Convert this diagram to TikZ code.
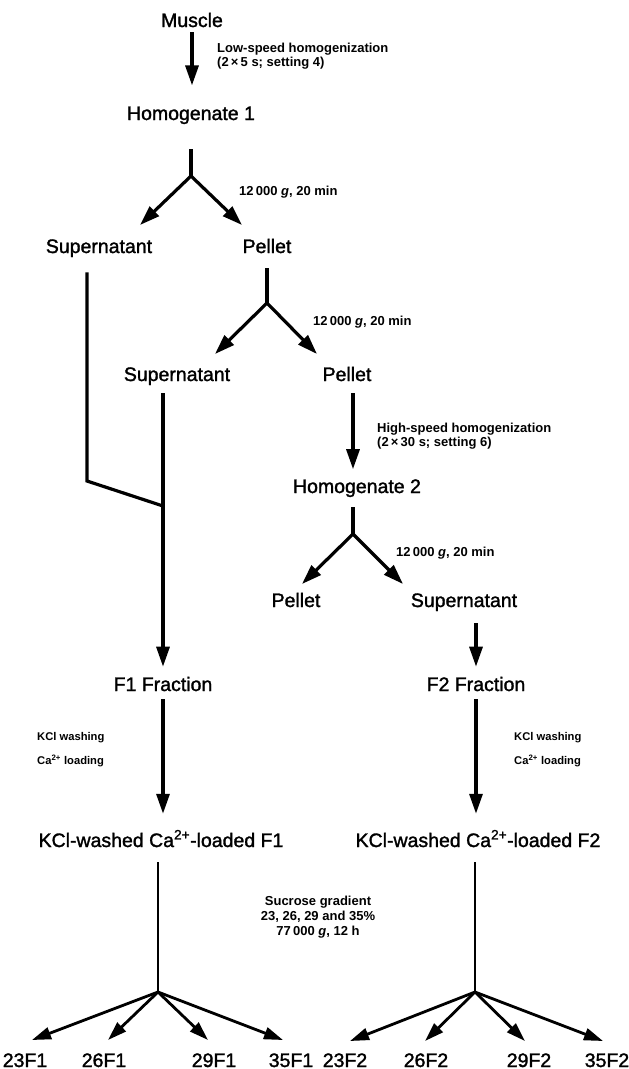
\documentclass[tikz,border=0pt]{standalone}
\usepackage{fontspec}
\setmainfont{Liberation Sans}
\newfontfamily\labelfont{Liberation Sans}[FakeBold=1.5]
\usetikzlibrary{arrows.meta,positioning}

\begin{document}
\begin{tikzpicture}[x = 1pt, y = -1pt,
  lbl/.style = {font=\labelfont\fontsize{19.5}{22}\selectfont, inner sep=0pt, anchor=base},
  note/.style = {font=\bfseries\fontsize{13}{13.5}\selectfont, align=left, anchor=west, inner sep=0pt},
  wash/.style = {font=\bfseries\fontsize{11.2}{13}\selectfont, align=left, anchor=west, inner sep=0pt},
  line/.style = {line width=3.2pt},
  arr/.style = {line width=3.2pt, -{Triangle[length=20pt,width=13pt]}},
  fan/.style = {line width=2.8pt, -{Triangle[length=19pt,width=12pt]}}]
\useasboundingbox (0,0) rectangle (629,1069);

% main steps
\node[lbl] (muscle) at (192,27) {Muscle};
\node[lbl] (hom1) at (191,120) {Homogenate 1};
\node[lbl] (supA) at (99,253) {Supernatant};
\node[lbl] (pelA) at (267,253) {Pellet};
\node[lbl] (supB) at (177,381) {Supernatant};
\node[lbl] (pelB) at (347,381) {Pellet};
\node[lbl] (hom2) at (357,493) {Homogenate 2};
\node[lbl] (pelC) at (296,607) {Pellet};
\node[lbl] (supC) at (464,607) {Supernatant};
\node[lbl] (f1) at (163,691) {F1 Fraction};
\node[lbl] (f2) at (476,691) {F2 Fraction};
\node[lbl] (kcl1) at (161,847) {KCl-washed Ca\textsuperscript{2+}-loaded F1};
\node[lbl] (kcl2) at (478,847) {KCl-washed Ca\textsuperscript{2+}-loaded F2};

% gradient fractions
\foreach \n/\x in {23F1/25, 26F1/104, 29F1/214, 35F1/291, 23F2/345, 26F2/426, 29F2/529, 35F2/607}
  \node[lbl] (g\n) at (\x,1067) {\n};

% conditions
\node[note] (cLow) at (217,56) {Low-speed homogenization\\(2\,×\,5 s; setting 4)};
\node[note] (cA) at (239,192) {12\,000 \textit{g}, 20 min};
\node[note] (cB) at (313,322) {12\,000 \textit{g}, 20 min};
\node[note] (cHigh) at (377,436) {High-speed homogenization\\(2\,×\,30 s; setting 6)};
\node[note] (cC) at (396,553) {12\,000 \textit{g}, 20 min};
\node[wash] (wash1) at (37,750) {KCl washing\\[11pt]Ca\textsuperscript{2+} loading};
\node[wash] (wash2) at (514,750) {KCl washing\\[11pt]Ca\textsuperscript{2+} loading};
\node[note, align=center, anchor=center, font=\bfseries\fontsize{13}{15}\selectfont] (cSuc) at (318,917) {Sucrose gradient\\23, 26, 29 and 35\%\\77\,000 \textit{g}, 12 h};

% junctions and arrow ends
\coordinate (j1) at (191,176);
\coordinate (j2) at (267,303);
\coordinate (j3) at (353,534);
\coordinate (j4) at (158,992);
\coordinate (j5) at (475,992);
\coordinate (bend) at (87,481);
\coordinate (merge) at (163,506);
\coordinate (t1a) at (140,225);
\coordinate (t1b) at (242,225);
\coordinate (t2a) at (215,354);
\coordinate (t2b) at (317,354);
\coordinate (t3a) at (302,584);
\coordinate (t3b) at (403,584);

% first homogenization
\draw[arr, shorten <=5pt, shorten >=21pt] (muscle.south) -- (muscle.south |- hom1.north);
\draw[line, shorten <=25pt] (hom1.south -| j1) -- (j1);
\draw[arr] (j1) -- (t1a);
\draw[arr] (j1) -- (t1b);

% pellet spun again
\draw[line, shorten <=15pt] (pelA.south -| j2) -- (j2);
\draw[arr] (j2) -- (t2a);
\draw[arr] (j2) -- (t2b);

% supernatants pooled into F1
\draw[line, shorten <=15pt] (supA.south -| bend) -- (bend) -- (merge);
\draw[arr, shorten <=8pt, shorten >=10pt] (supB.south -| merge) -- (merge |- f1.north);

% second homogenization
\draw[arr, shorten <=12pt, shorten >=10pt] (pelB.south -| j3) -- (j3 |- hom2.north);
\draw[line, shorten <=10pt] (hom2.south -| j3) -- (j3);
\draw[arr] (j3) -- (t3a);
\draw[arr] (j3) -- (t3b);
\draw[arr, shorten <=12pt, shorten >=10pt] (supC.south -| f2) -- (f2.north);

% washing and loading
\draw[arr, shorten <=8pt, shorten >=16pt] (f1.south) -- (f1.south |- kcl1.north);
\draw[arr, shorten <=8pt, shorten >=16pt] (f2.south) -- (f2.south |- kcl2.north);

% sucrose gradients
\draw[line, line width=2.8pt, shorten <=15pt] (kcl1.south -| j4) -- (j4);
\draw[line, line width=2.8pt, shorten <=15pt] (kcl2.south -| j5) -- (j5);
\foreach \tx in {32,108,208,283}
  \draw[fan] (j4) -- (\tx,1040);
\foreach \tx in {350,425,525,603}
  \draw[fan] (j5) -- (\tx,1041);
\end{tikzpicture}
\end{document}
